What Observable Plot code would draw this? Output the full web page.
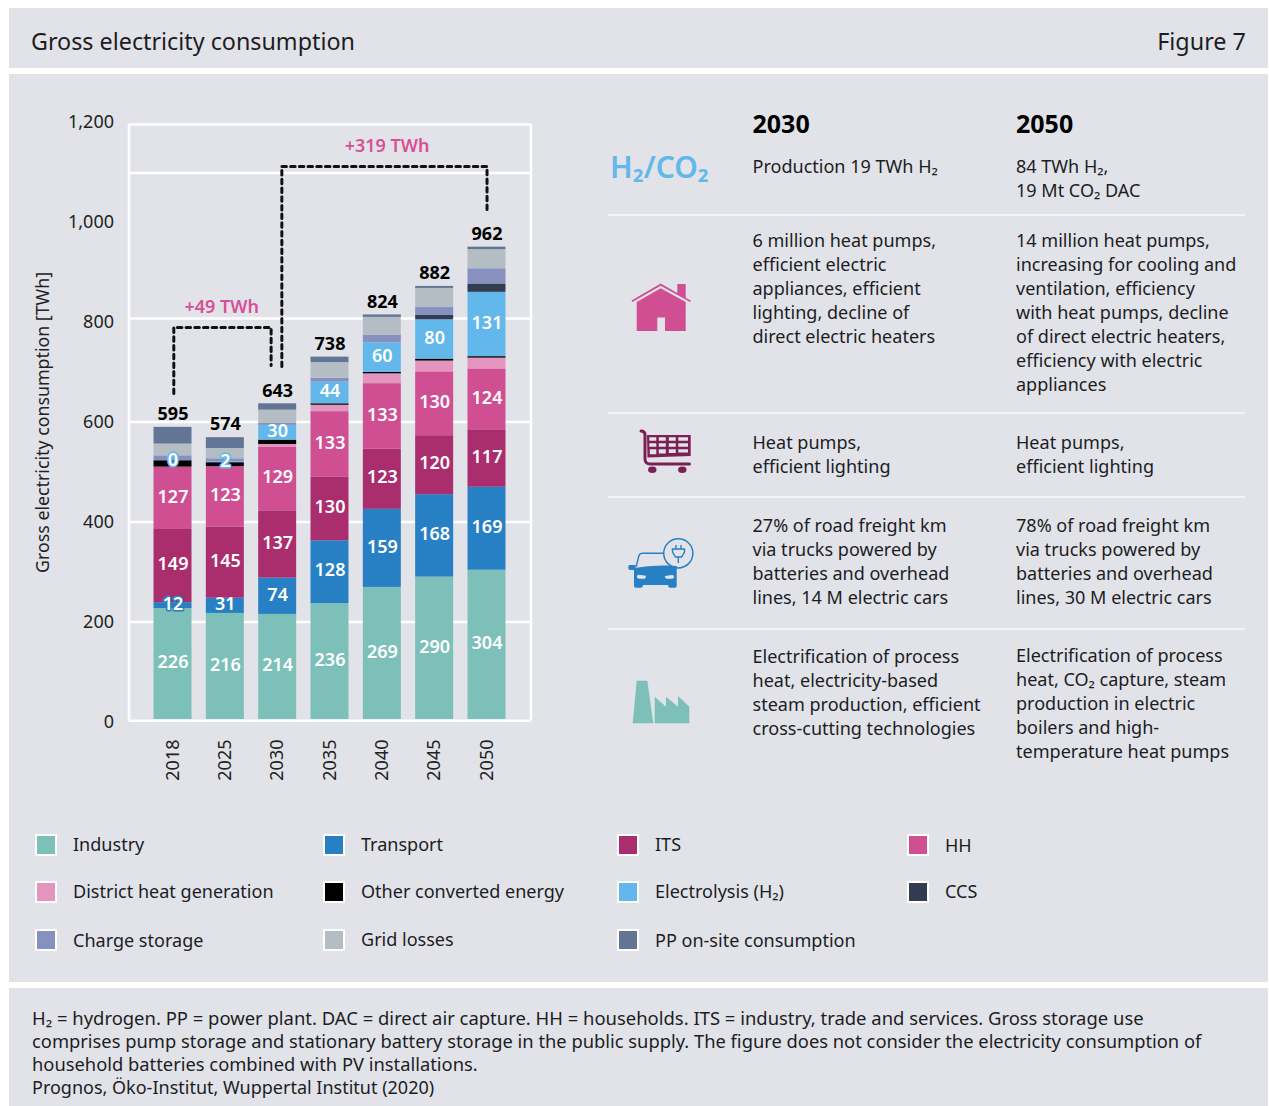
<!DOCTYPE html>
<html lang="en">
<head>
<meta charset="utf-8">
<title>Gross electricity consumption</title>
<script src="https://cdn.jsdelivr.net/npm/d3@7"></script>
<script src="https://cdn.jsdelivr.net/npm/@observablehq/plot@0.6"></script>
<style>
  html, body { margin: 0; padding: 0; background: #fff; }
  body { width: 1269px; height: 1106px; position: relative; overflow: hidden;
         font-family: "Noto Sans", sans-serif; color: #1d1d1f; }
  .band { position: absolute; left: 9px; width: 1259px; background: #e1e3e9; }
  .t { position: absolute; white-space: nowrap; line-height: 20px; font-size: 18.05px; }
  .rule { position: absolute; left: 608px; width: 637px; height: 2px; background: #f4f5f7; }
  .sw { position: absolute; width: 18px; height: 18px; border: 2px solid #fff; }
  .plotbox { position: absolute; left: 0; top: 0; }
  #icons { position: absolute; left: 0; top: 0; }
</style>
</head>
<body>
<div class="band" style="top:8px;height:60px"></div>
<div class="band" style="top:74px;height:908px"></div>
<div class="band" style="top:988px;height:118px"></div>
<div id="text"></div>
<div class="plotbox" id="axisPlot"></div>
<div class="plotbox" id="barPlot"></div>
<svg id="icons" width="1269" height="1106" viewBox="0 0 1269 1106">
  <!-- house -->
  <g fill="#d04f92">
    <path d="M631.5 300.5 L660.7 283.5 L677.3 293 V284 H685.7 V298 L690.9 300.5 L690 302 L660.7 285.8 L632.4 302 Z"/>
    <path fill-rule="evenodd" d="M636.7 302 L660.7 288.3 L685.7 302 V331 H636.7 Z M657.3 331 H665 V317.5 H657.3 Z"/>
  </g>
  <!-- cart -->
  <g fill="none" stroke="#7b1f55">
    <path stroke-width="3" stroke-linecap="round" d="M641 431 C644 431 645 432.5 645 435 V459 C645 462 647 464 650 464 H689.5"/>
    <path fill="#7b1f55" stroke="none" fill-rule="evenodd" d="M647 435 H690.7 V456 L647.5 457.5 Z
      M649.3 437.3 V440.7 H656.3 V437.3 Z M658.8 437.3 V440.7 H665.8 V437.3 Z M668.8 437.3 V440.7 H675.8 V437.3 Z M678.3 437.3 V440.7 H688 V437.3 Z
      M649.3 443.3 V446.7 H656.3 V443.3 Z M658.8 443.3 V446.7 H665.8 V443.3 Z M668.8 443.3 V446.7 H675.8 V443.3 Z M678.3 443.3 V446.7 H688 V443.3 Z
      M649.8 449.3 V454.2 H656.3 V449.3 Z M658.8 449.3 V453.4 H665.8 V449.3 Z M668.8 449.3 V453 H675.8 V449.3 Z M678.3 449.3 V452.4 H688 V449.3 Z"/>
    <ellipse cx="652.3" cy="469.7" rx="4.2" ry="3.3" fill="#7b1f55" stroke="none"/>
    <ellipse cx="682.3" cy="469.7" rx="4.2" ry="3.3" fill="#7b1f55" stroke="none"/>
  </g>
  <!-- car -->
  <g fill="#2880c4">
    <path fill="none" stroke="#2880c4" stroke-width="1.4" d="M636 567 L639 555.5 C639.5 554 640.5 553.3 642 553.3 H663.5"/>
    <path fill-rule="evenodd" d="M634 568 Q650 565 667 565.5 L676.7 566 V586 Q676.7 587.7 675 587.7 H670 Q668 587.7 668 585 H643 Q643 587.7 641 587.7 H636 Q634 587.7 634 586 Z
      M637 576 Q637 574.8 639 574.8 L646 575.8 Q646 578.8 644 578.8 H639 Q637 578.8 637 577 Z
      M665 576 L672 575 Q674 575 674 576.5 Q674 578.8 672 578.8 H667 Q665 578.8 665 576 Z"/>
    <path d="M629.5 565 H635.5 V570 H630 Q628.3 570 628.3 568 V566.5 Q628.3 565 629.5 565 Z"/>
    <circle cx="678.3" cy="553.3" r="14.6" fill="none" stroke="#2880c4" stroke-width="1.5"/>
    <path fill="none" stroke="#2880c4" stroke-width="1.4" d="M676 545 V549 M681 545 V549 M672.5 549 H684.5 V552 L681.5 557 H675.5 L672.5 552 Z M678.3 557 V563"/>
  </g>
  <!-- factory -->
  <g fill="#7cc0b9">
    <path d="M636.7 680.7 H647.3 L653.3 723.3 H632.7 Z"/>
    <path d="M654.7 723.3 V696.7 L666 706.7 V696.7 L678 706.7 V696 L689.3 706.7 V723.3 Z"/>
  </g>
</svg>
<script>
// ---------- chart data ----------
const years = ["2018", "2025", "2030", "2035", "2040", "2045", "2050"];
const totals = [595, 574, 643, 738, 824, 882, 962];
const industry = [226, 216, 214, 236, 269, 290, 304];
const transport = [12, 31, 74, 128, 159, 168, 169];
const its = [149, 145, 137, 130, 123, 120, 117];
const hh = [127, 123, 129, 133, 133, 130, 124];
const districtHeat = [0, 0, 6, 13, 20, 22, 22];
const otherConverted = [13, 8, 9, 3, 3, 4, 3];
const electrolysis = [0, 2, 30, 44, 60, 80, 131];
const ccs = [0, 0, 0, 0, 0, 9, 17];
const chargeStorage = [10, 6, 4, 8, 16, 16, 31];
const gridLosses = [24, 21, 27, 32, 36, 39, 39];
const ppOnSite = [34, 22, 13, 11, 5, 4, 5];

const seriesNames = ["Industry", "Transport", "ITS", "HH", "District heat generation",
  "Other converted energy", "Electrolysis (H₂)", "CCS", "Charge storage", "Grid losses", "PP on-site consumption"];
const seriesColors = ["#7cc0b9", "#2880c4", "#aa2d6e", "#d04f92", "#e495bf",
  "#000000", "#62b8ea", "#323c50", "#8691c0", "#b5bdc4", "#627595"];
const seriesValues = [industry, transport, its, hh, districtHeat, otherConverted,
  electrolysis, ccs, chargeStorage, gridLosses, ppOnSite];
const labelledSeries = ["Industry", "Transport", "ITS", "HH", "Electrolysis (H₂)"];
const haloThreshold = 15;

const yTicks = [0, 200, 400, 600, 800, 1000, 1200];
const gridLevels = [199, 399, 599, 806, 1097, 1194];
const frameBottom = 1.5;

// dashed connectors; x counted in bar slots from 2018 = 0
const connectorSmall = { x: [0.016, 0.016, 1.875, 1.875], y: [656, 788, 788, 712] };
const connectorLarge = { x: [2.08, 2.08, 6, 6], y: [710, 1110, 1110, 1016] };
const notes = [{ x: 0.93, y: 828, text: "+49 TWh" }, { x: 4.09, y: 1150, text: "+319 TWh" }];

// ---------- page text ----------
const tableCols = [752.5, 1016];
const tableRows = [
  [[156, ["Production 19 TWh H₂"]], [156, ["84 TWh H₂,", "19 Mt CO₂ DAC"]]],
  [[230, ["6 million heat pumps,", "efficient electric", "appliances, efficient", "lighting, decline of", "direct electric heaters"]],
   [230, ["14 million heat pumps,", "increasing for cooling and", "ventilation, efficiency", "with heat pumps, decline", "of direct electric heaters,", "efficiency with electric", "appliances"]]],
  [[432, ["Heat pumps,", "efficient lighting"]], [432, ["Heat pumps,", "efficient lighting"]]],
  [[515, ["27% of road freight km", "via trucks powered by", "batteries and overhead", "lines, 14 M electric cars"]],
   [515, ["78% of road freight km", "via trucks powered by", "batteries and overhead", "lines, 30 M electric cars"]]],
  [[646, ["Electrification of process", "heat, electricity-based", "steam production, efficient", "cross-cutting technologies"]],
   [645, ["Electrification of process", "heat, CO₂ capture, steam", "production in electric", "boilers and high-", "temperature heat pumps"]]]
];
const ruleTops = [214, 412, 496, 628];
const legendEntries = [
  ["Industry", 35, 834, 834], ["Transport", 323, 834, 834], ["ITS", 617, 834, 834], ["HH", 907, 834, 835],
  ["District heat generation", 35, 881, 881], ["Other converted energy", 323, 881, 881], ["Electrolysis (H₂)", 617, 881, 881], ["CCS", 907, 881, 881],
  ["Charge storage", 35, 929, 930], ["Grid losses", 323, 929, 929], ["PP on-site consumption", 617, 929, 930]
];
const footerLines = [
  "H₂ = hydrogen. PP = power plant. DAC = direct air capture. HH = households. ITS = industry, trade and services. Gross storage use",
  "comprises pump storage and stationary battery storage in the public supply. The figure does not consider the electricity consumption of",
  "household batteries combined with PV installations.",
  "Prognos, Öko-Institut, Wuppertal Institut (2020)"
];
const footerTops = [1008, 1031, 1054, 1077];
const footerSizes = [18.45, 18.33, 18.33, 18];

function addText(parent, str, left, top, extra) {
  const d = document.createElement("div");
  d.className = "t";
  d.textContent = str;
  d.style.left = left + "px";
  d.style.top = top + "px";
  Object.assign(d.style, extra || {});
  parent.appendChild(d);
  return d;
}
const host = document.getElementById("text");
addText(host, "Gross electricity consumption", 31, 23, { fontSize: "23.3px", lineHeight: "36px" });
addText(host, "Figure 7", 0, 23, { fontSize: "23.4px", lineHeight: "36px", left: "auto", right: "23px" });
tableCols.forEach((x, c) => {
  addText(host, ["2030", "2050"][c], x, 105, { fontSize: "25px", lineHeight: "36px", fontWeight: 700, color: "#000" });
  tableRows.forEach(row => {
    const [top, lines] = row[c];
    lines.forEach((l, i) => addText(host, l, x, top + i * 24));
  });
});
addText(host, "H₂/CO₂", 610, 147, { fontSize: "30px", lineHeight: "40px", fontWeight: 600, color: "#62b8ea" });
ruleTops.forEach(t => {
  const r = document.createElement("div");
  r.className = "rule";
  r.style.top = t + "px";
  host.appendChild(r);
});
legendEntries.forEach(([name, x, y, textY]) => {
  const s = document.createElement("div");
  s.className = "sw";
  s.style.left = x + "px";
  s.style.top = y + "px";
  s.style.background = seriesColors[seriesNames.indexOf(name)];
  host.appendChild(s);
  addText(host, name, x + 38, textY);
});
footerLines.forEach((l, i) => addText(host, l, 32, footerTops[i], { fontSize: footerSizes[i] + "px" }));

// ---------- charts ----------
const plotW = 560, plotH = 800;
const font = '"Noto Sans", sans-serif';
const rows = [];
years.forEach((year, i) => {
  seriesNames.forEach((series, s) => {
    rows.push({ year, series, value: seriesValues[s][i] });
  });
});
const isLabelled = d => labelledSeries.includes(d.series);
const isHalo = d => isLabelled(d) && d.value < haloThreshold;

// axis, grid, frame and connectors: the printed axis runs on its own scale
const connectorMark = c => Plot.line(c.x.map((x, i) => ({ x, y: c.y[i] })), {
  x: "x", y: "y", stroke: "#111", strokeWidth: 3, strokeDasharray: "4.5 4.2"
});
document.getElementById("axisPlot").append(Plot.plot({
  width: plotW, height: plotH,
  marginLeft: 128.5, marginRight: plotW - 530.5, marginTop: 121, marginBottom: plotH - 721,
  style: { background: "transparent", fontFamily: font, overflow: "visible" },
  x: { type: "linear", domain: [-0.84, 6.84], axis: null },
  y: { domain: [0, 1200], axis: null },
  marks: [
    Plot.ruleY(gridLevels.concat(frameBottom), { stroke: "#fff", strokeWidth: 2.6, x1: -0.84, x2: 6.84 }),
    Plot.ruleX([-0.84, 6.84], { y1: frameBottom, y2: 1194, stroke: "#fff", strokeWidth: 2.6 }),
    connectorMark(connectorSmall),
    connectorMark(connectorLarge),
    Plot.text(notes, { x: "x", y: "y", text: "text", fill: "#d94f96", fontSize: 18, fontWeight: 600 }),
    Plot.axisY(yTicks, { anchor: "left", tickSize: 0, tickPadding: 15, tickFormat: d3.format(","),
      fontSize: 18, fill: "#222", label: null, dy: 1 }),
    Plot.text(["Gross electricity consumption [TWh]"], {
      frameAnchor: "left", textAnchor: "middle", dx: -85.5, y: [598], text: d => d, rotate: -90,
      fontSize: 17.8, fill: "#222"
    })
  ]
}));

// stacked bars on the scale the bars were drawn with
document.getElementById("barPlot").append(Plot.plot({
  width: plotW, height: plotH,
  marginLeft: 128.5, marginRight: plotW - 530.5, marginTop: 0, marginBottom: plotH - 719,
  style: { background: "transparent", fontFamily: font, overflow: "visible" },
  x: { type: "band", domain: years, paddingInner: 0.274, paddingOuter: 0.478, align: 0.5, round: false, label: null },
  y: { domain: [0, 1200], range: [719, 129.8], axis: null },
  color: { domain: seriesNames, range: seriesColors },
  marks: [
    Plot.barY(rows, { x: "year", y: "value", fill: "series" }),
    Plot.text(rows, Plot.stackY({
      x: "year", y: "value", z: "series",
      text: d => (isLabelled(d) && !isHalo(d) ? d.value : null),
      fill: "#fff", fontSize: 18, fontWeight: 600, dy: -1.5
    })),
    Plot.text(rows, Plot.stackY({
      x: "year", y: "value", z: "series",
      text: d => (isHalo(d) ? d.value : null),
      fill: "#fff", fontSize: 18, fontWeight: 600, dy: -1,
      stroke: d => seriesColors[seriesNames.indexOf(d.series)], strokeWidth: 3
    })),
    Plot.text(years.map((year, i) => ({ year, total: totals[i] })), {
      x: "year", y: "total", text: "total", dy: -13, fill: "#000", fontSize: 18, fontWeight: 700
    }),
    Plot.axisX({ anchor: "bottom", tickSize: 0, tickPadding: 20, tickRotate: -90, fontSize: 18, fill: "#222", label: null })
  ]
}));
</script>
</body>
</html>
